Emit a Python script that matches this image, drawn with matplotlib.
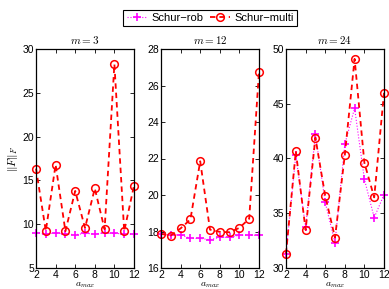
import matplotlib
matplotlib.use('Agg')
import matplotlib.pyplot as plt
import numpy as np

# data
a_max = [2, 3, 4, 5, 6, 7, 8, 9, 10, 11, 12]
m_values = [3, 12, 24]

rob_m3 = [9.05, 8.9, 9.0, 8.9, 8.8, 8.95, 8.9, 9.0, 8.95, 8.9, 8.85]
multi_m3 = [16.35, 9.23, 16.8, 9.2, 13.8, 9.57, 14.08, 9.42, 28.27, 9.2, 14.4]

rob_m12 = [17.85, 17.8, 17.82, 17.62, 17.62, 17.55, 17.68, 17.68, 17.8, 17.8, 17.8]
multi_m12 = [17.87, 17.78, 18.17, 18.66, 21.85, 18.1, 17.98, 17.96, 18.2, 18.7, 26.76]

rob_m24 = [31.3, 40.3, 33.7, 42.2, 36.0, 32.3, 41.3, 44.6, 38.1, 34.6, 36.7]
multi_m24 = [31.3, 40.67, 33.47, 41.9, 36.6, 32.77, 40.3, 49.1, 39.6, 36.45, 46.0]

rob_all = [rob_m3, rob_m12, rob_m24]
multi_all = [multi_m3, multi_m12, multi_m24]
ylims = [(5, 30), (16, 28), (30, 50)]
ysteps = [5, 2, 5]

plt.rcParams['font.family'] = ['Liberation Sans', 'DejaVu Sans']
plt.rcParams['mathtext.fontset'] = 'cm'

fig = plt.figure(figsize=(3.89, 2.89), dpi=100)
lefts = [36/389, 161/389, 286/389]
bottom = 21/289
height = 219/289
width = 98/389

for i in range(3):
    ax = fig.add_axes([lefts[i], bottom, width, height])
    l1, = ax.plot(a_max, rob_all[i], color='magenta', linestyle=':', linewidth=0.8,
                  marker='+', markersize=6, markeredgewidth=1.2, label='Schur\u2212rob', clip_on=False)
    l2, = ax.plot(a_max, multi_all[i], color='red', linestyle='--', linewidth=1.3,
                  dashes=(3, 2.2), marker='o', markersize=5.5, markerfacecolor='none',
                  markeredgewidth=1.1, label='Schur\u2212multi', clip_on=False)
    ax.set_xlim(2, 12)
    ax.set_xticks(np.arange(2, 13, 2))
    lo, hi = ylims[i]
    ax.set_ylim(lo, hi)
    ax.set_yticks(np.arange(lo, hi + 0.1, ysteps[i]))
    ax.tick_params(direction='in', top=True, right=True, length=3, width=0.6,
                   labelsize=7.5, pad=1.5)
    for sp in ax.spines.values():
        sp.set_linewidth(0.9)
    ax.set_title(r'$m = %d$' % m_values[i], fontsize=8, pad=3.5)
    ax.set_xlabel(r'$a_{max}$', fontsize=7, labelpad=0)
    if i == 0:
        ax.set_ylabel(r'$\|F\|_F$', fontsize=8, labelpad=2)

leg = fig.legend(handles=[l1, l2], loc='upper center', bbox_to_anchor=(0.54, 0.967),
                 ncol=2, fontsize=8, frameon=True, fancybox=False, edgecolor='k',
                 framealpha=1.0, borderpad=0.3, handlelength=1.8, handletextpad=0.4,
                 columnspacing=0.6, borderaxespad=0)
leg.get_frame().set_linewidth(0.8)

fig.savefig('out.png', dpi=100)
